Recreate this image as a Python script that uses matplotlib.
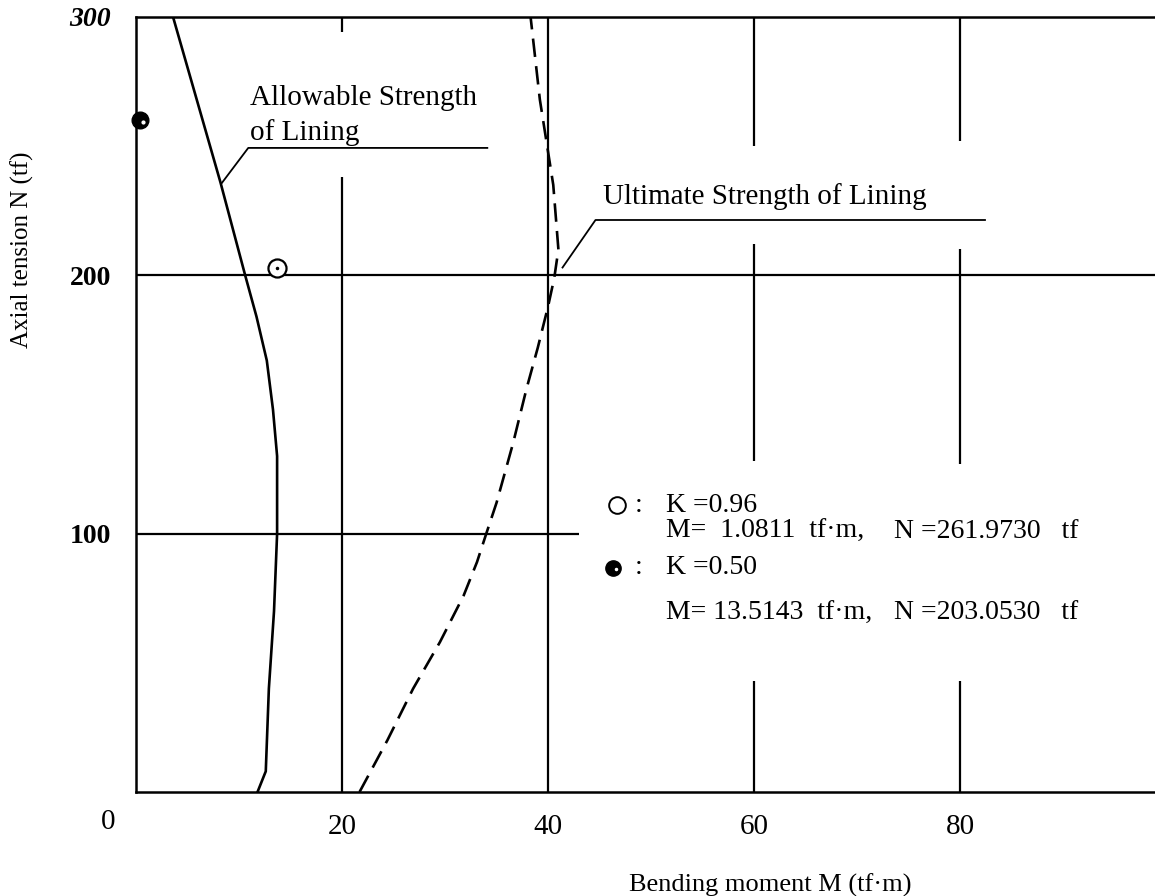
import matplotlib
matplotlib.use("Agg")
import matplotlib.pyplot as plt

# allowable strength of lining (solid), M in tf*m, N in tf
allow_m = [11.8, 12.6, 12.9, 13.4, 13.7, 13.7, 13.3, 12.7, 11.7, 10.6, 8.2, 3.6]
allow_n = [0, 8, 40, 70, 100, 130, 148, 167, 184, 200, 236, 300]

# ultimate strength of lining (dashed)
ult_m = [21.7, 24.4, 26.9, 29.5, 31.8, 33.1, 34.0, 35.0, 36.6, 37.9, 39.0, 40.0, 40.6, 41.0, 40.5, 39.2, 38.3]
ult_n = [0, 20, 40, 58, 76, 89, 100, 112, 135, 156, 172, 188, 199, 210, 235, 268, 300]

# plotted cases
open_pt = (13.7, 203)
filled_pt = (0.4, 260)

# broken grid segments as drawn in the original (x, n_from, n_to)
v_segments = [(20, 294, 300), (20, 0, 238), (40, 0, 300),
              (60, 250, 300), (60, 128, 212), (60, 0, 43),
              (80, 252, 300), (80, 127, 210), (80, 0, 43)]
h_segments = [(200, 0, 99), (100, 0, 43)]

x_ticks = [20, 40, 60, 80]
y_ticks = [100, 200, 300]

serif = ["Liberation Serif", "DejaVu Serif"]

fig = plt.figure(figsize=(11.55, 8.96), dpi=100)
ax = fig.add_axes([0.1177, 0.1161, 0.8823, 0.8650])
ax.set_xlim(0, 98.9)
ax.set_ylim(0, 300)

for x, n0, n1 in v_segments:
    ax.vlines(x, n0, n1, color="black", lw=1.6)
for n, m0, m1 in h_segments:
    ax.hlines(n, m0, m1, color="black", lw=1.6)

ax.plot(allow_m, allow_n, color="black", lw=1.9)
ax.plot(ult_m, ult_n, color="black", lw=1.9, linestyle=(0, (7, 3.5)))

ax.plot(*open_pt, marker="o", ms=13, mfc="white", mec="black", mew=1.6, zorder=5)
ax.plot(*open_pt, marker=".", ms=3, color="black", zorder=6)
ax.plot(*filled_pt, marker="o", ms=12, mfc="black", mec="black", zorder=5, clip_on=False)
ax.plot(filled_pt[0] + 0.3, filled_pt[1] - 0.5, marker=".", ms=4, color="white", zorder=6, clip_on=False)

# leaders and labels
lab_kw = dict(family=serif, fontsize=21, va="center", ha="left")
ax.plot([8.35, 10.9, 34.1], [235.8, 249.3, 249.3], color="black", lw=1.3)
ax.text(11.1, 268.8, "Allowable Strength", **lab_kw)
ax.text(11.1, 255.3, "of Lining", **lab_kw)
ax.plot([41.4, 44.6, 82.4], [203, 221.4, 221.4], color="black", lw=1.3)
ax.text(45.3, 230.4, "Ultimate Strength of Lining", **lab_kw)

# legend block
leg_kw = dict(family=serif, fontsize=20, va="center", ha="left")
ax.plot(46.7, 111, marker="o", ms=12, mfc="white", mec="black", mew=1.4)
ax.plot(46.3, 86.7, marker="o", ms=11, mfc="black", mec="black")
ax.plot(46.6, 86.5, marker=".", ms=3, color="white")
ax.text(48.4, 111, ":", **leg_kw)
ax.text(48.4, 86.7, ":", **leg_kw)
ax.text(51.4, 111, "K =0.96", **leg_kw)
ax.text(51.4, 101, "M=  1.0811  tf·m,", **leg_kw)
ax.text(73.6, 101, "N =261.9730   tf", **leg_kw)
ax.text(51.4, 86.7, "K =0.50", **leg_kw)
ax.text(51.4, 69.3, "M= 13.5143  tf·m,", **leg_kw)
ax.text(73.6, 69.3, "N =203.0530   tf", **leg_kw)

for side in ["left", "bottom", "top"]:
    ax.spines[side].set_linewidth(1.8)
ax.spines["right"].set_visible(False)

ax.set_xticks(x_ticks)
ax.set_xticklabels([str(v) for v in x_ticks], family=serif, fontsize=21)
ax.set_yticks(y_ticks)
ax.set_yticklabels([str(v) for v in y_ticks], family=serif, fontsize=20, fontweight="bold")
ax.get_yticklabels()[-1].set_style("italic")
ax.tick_params(length=0)
ax.tick_params(axis="x", pad=16)
ax.tick_params(axis="y", pad=18)
ax.annotate("0", xy=(0, 0), xytext=(-20, -21.5), textcoords="offset points",
            family=serif, fontsize=21, ha="center", va="center",
            annotation_clip=False)

ax.set_xlabel("Bending moment M (tf·m)", family=serif, fontsize=19)
ax.xaxis.set_label_coords(0.622, -0.105)
ax.set_ylabel("Axial tension N (tf)", family=serif, fontsize=18)
ax.yaxis.set_label_coords(-0.1, 0.7)

fig.savefig("out.png", dpi=100)
